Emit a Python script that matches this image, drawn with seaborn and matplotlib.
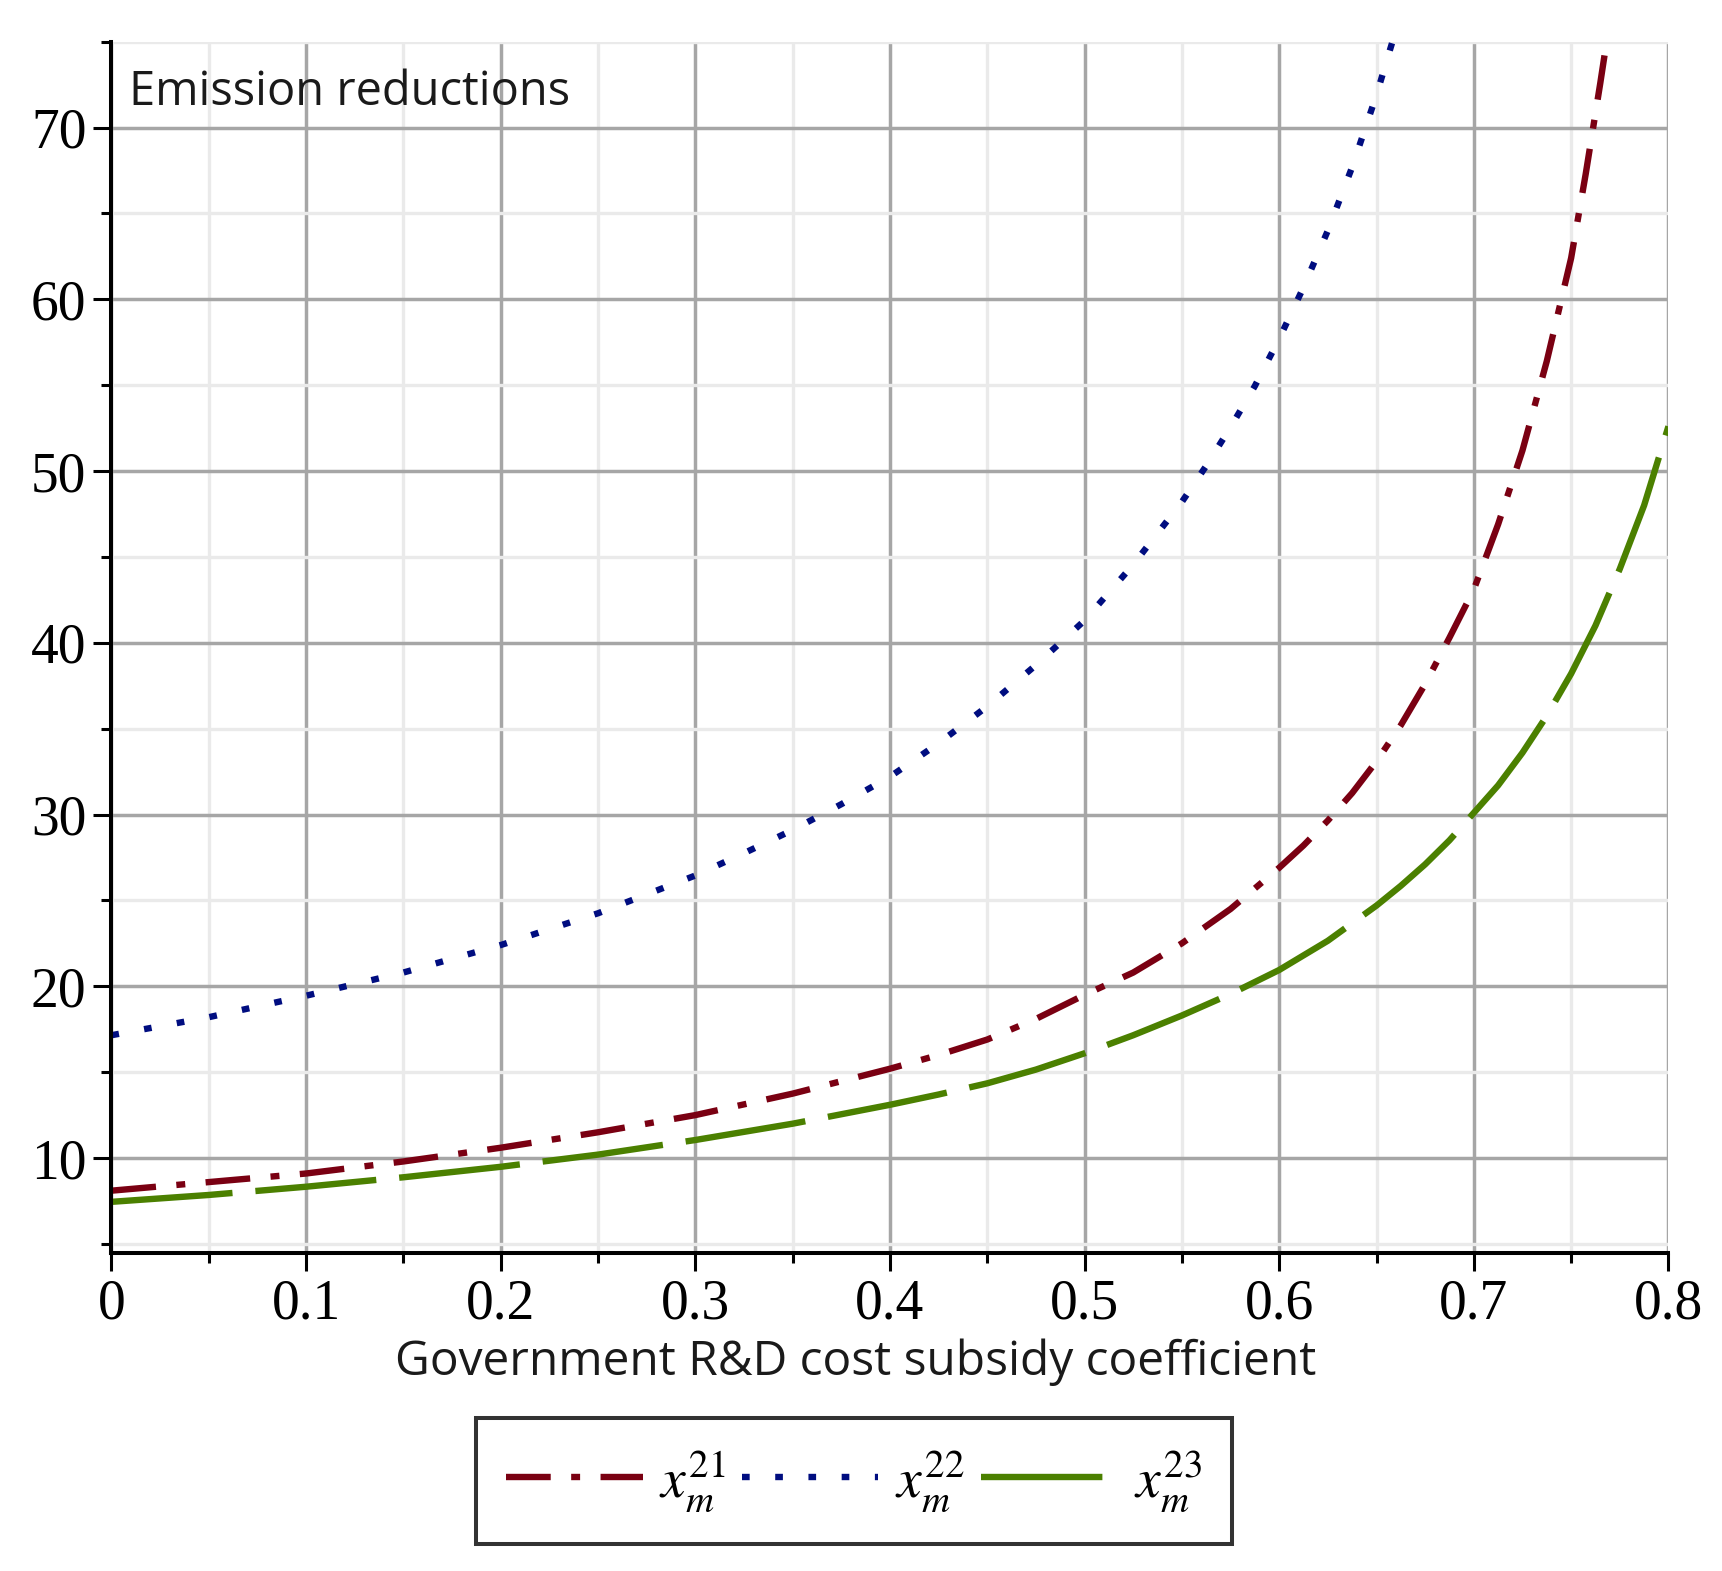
import numpy as np
import pandas as pd
import matplotlib
matplotlib.use("Agg")
import matplotlib.pyplot as plt
import matplotlib.ticker as mticker
import seaborn as sns

# ── data ─────────────────────────────────────────────────────────────────────
x21 = [0.0, 0.05, 0.1, 0.15, 0.2, 0.25, 0.3, 0.35, 0.4, 0.425, 0.45, 0.475, 0.5,
       0.525, 0.55, 0.575, 0.6, 0.6125, 0.625, 0.6375, 0.65, 0.6625, 0.675, 0.6875,
       0.7, 0.7125, 0.725, 0.7375, 0.75, 0.7575, 0.765, 0.7685]
y21 = [8.1, 8.6, 9.1, 9.8, 10.6, 11.5, 12.5, 13.75, 15.2, 16.0, 16.9, 18.1, 19.5,
       20.8, 22.5, 24.5, 26.9, 28.2, 29.65, 31.25, 33.1, 35.2, 37.6, 40.3,
       43.1, 46.9, 51.2, 56.4, 62.4, 67.3, 72.6, 75.2]

x22 = [0.0, 0.05, 0.1, 0.15, 0.2, 0.25, 0.3, 0.325, 0.35, 0.375, 0.4, 0.425, 0.45,
       0.475, 0.5, 0.525, 0.55, 0.5625, 0.575, 0.5875, 0.6, 0.6125, 0.625, 0.6375,
       0.65, 0.6566, 0.659]
y22 = [17.15, 18.2, 19.45, 20.8, 22.4, 24.25, 26.45, 27.75, 29.1, 30.6, 32.2, 34.15, 36.3,
       38.7, 41.3, 44.55, 48.2, 50.3, 52.55, 54.95, 57.7, 60.7, 64.0, 67.7,
       71.9, 74.4, 75.3]

x23 = [0.0, 0.05, 0.1, 0.15, 0.2, 0.25, 0.3, 0.35, 0.4, 0.425, 0.45, 0.475, 0.5,
       0.525, 0.55, 0.575, 0.6, 0.625, 0.65, 0.6625, 0.675, 0.6875, 0.7, 0.7125,
       0.725, 0.7375, 0.75, 0.7625, 0.775, 0.7875, 0.8]
y23 = [7.45, 7.85, 8.33, 8.88, 9.49, 10.2, 11.05, 12.0, 13.1, 13.7, 14.35, 15.15, 16.1,
       17.15, 18.3, 19.55, 20.95, 22.65, 24.7, 25.85, 27.1, 28.5, 30.1, 31.7,
       33.6, 35.75, 38.2, 41.0, 44.3, 48.0, 52.6]

labels = [r"$x_m^{21}$", r"$x_m^{22}$", r"$x_m^{23}$"]
colors = ["#7A0012", "#000D80", "#4B8000"]
dashes = [(0, (7.0, 3.2, 1.4, 3.2)), (0, (1.2, 4.0)), (0, (19, 3.6))]

df = pd.concat([
    pd.DataFrame({"x": x21, "y": y21, "series": labels[0]}),
    pd.DataFrame({"x": x22, "y": y22, "series": labels[1]}),
    pd.DataFrame({"x": x23, "y": y23, "series": labels[2]}),
], ignore_index=True)

# ── style ────────────────────────────────────────────────────────────────────
sns.set_theme(style="white")
plt.rcParams["font.family"] = ["Liberation Serif", "DejaVu Serif"]
plt.rcParams["mathtext.fontset"] = "stix"
plt.rcParams["text.color"] = "black"
plt.rcParams["xtick.color"] = "black"
plt.rcParams["ytick.color"] = "black"
SANS = ["Open Sans", "DejaVu Sans"]

fig = plt.figure(figsize=(17.22, 15.71), dpi=100)
ax = fig.add_axes([0.0647, 0.2024, 0.9042, 0.7711])

for lab, col, ls in zip(labels, colors, dashes):
    sub = df[df["series"] == lab]
    sns.lineplot(data=sub, x="x", y="y", ax=ax, color=col, lw=4.6, label=lab,
                 sort=False, estimator=None)
    ax.lines[-1].set_linestyle(ls)

ax.set_xlim(0, 0.8)
ax.set_ylim(4.47, 75)
ax.xaxis.set_major_locator(mticker.MultipleLocator(0.1))
ax.xaxis.set_minor_locator(mticker.MultipleLocator(0.05))
ax.yaxis.set_major_locator(mticker.MultipleLocator(10))
ax.yaxis.set_minor_locator(mticker.MultipleLocator(5))
ax.xaxis.set_major_formatter(mticker.FuncFormatter(lambda v, p: "0" if v == 0 else f"{v:.1f}"))
ax.set_yticks([10, 20, 30, 40, 50, 60, 70])

ax.grid(which="major", color="#A6A6A6", lw=2.5)
ax.grid(which="minor", color="#EAEAEA", lw=2.4)
ax.set_axisbelow(True)

for s in ["top", "right"]:
    ax.spines[s].set_visible(False)
for s in ["left", "bottom"]:
    ax.spines[s].set_color("black")
    ax.spines[s].set_linewidth(2.9)
    ax.spines[s].set_zorder(5)

ax.tick_params(which="major", direction="out", length=13, width=2.2, color="black",
               labelsize=40, pad=5, left=True, bottom=True, labelcolor="black")
ax.tick_params(which="minor", direction="out", length=7, width=2.2, color="black",
               left=True, bottom=True)
ax.set_xlabel("")
ax.set_ylabel("")

ax.text(0.0115, 0.958, "Emission reductions", transform=ax.transAxes,
        family=SANS, fontsize=33.8, va="center", ha="left", color="#1a1a1a")
fig.text(0.497, 0.133, "Government R&D cost subsidy coefficient", family=SANS,
         fontsize=34.5, ha="center", va="center", color="#1a1a1a")

handles, labs = ax.get_legend_handles_labels()
ax.get_legend().remove()
leg = fig.legend(handles, labs, loc="center", bbox_to_anchor=(0.496, 0.0573), ncol=3,
                 fontsize=40, handlelength=2.45, handletextpad=0.3, columnspacing=0.3,
                 frameon=True, fancybox=False, edgecolor="black", borderpad=0.55,
                 borderaxespad=0)
leg.get_frame().set_linewidth(2.9)

fig.savefig("out.png", dpi=100)
